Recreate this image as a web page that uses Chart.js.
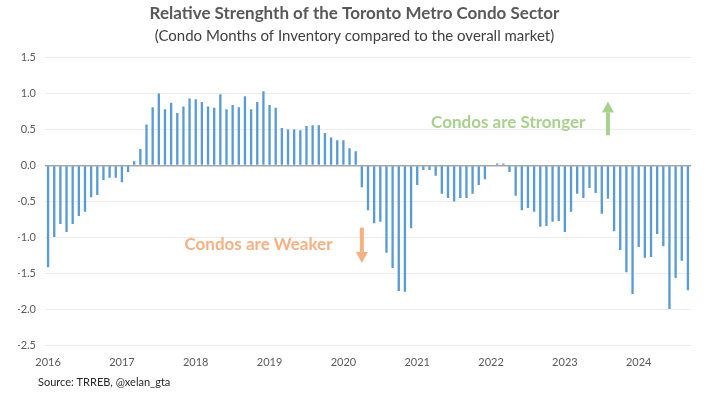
<!DOCTYPE html>
<html>
<head>
<meta charset="utf-8">
<script src="https://cdn.jsdelivr.net/npm/chart.js@4"></script>
<style>
    html, body { margin: 0; padding: 0; background: #fff; }
    #wrap { width: 709px; height: 396px; }
</style>
</head>
<body>
<div id="wrap"><canvas id="grafico"></canvas></div>
<script>
const anos = ['2016', '2017', '2018', '2019', '2020', '2021', '2022', '2023', '2024'];
const meses = ['01', '02', '03', '04', '05', '06', '07', '08', '09', '10', '11', '12'];

const valores2016 = [-1.41, -0.99, -0.81, -0.92, -0.81, -0.70, -0.64, -0.44, -0.41, -0.20, -0.17, -0.17];
const valores2017 = [-0.23, -0.09, 0.06, 0.23, 0.57, 0.81, 1.00, 0.78, 0.87, 0.73, 0.82, 0.93];
const valores2018 = [0.92, 0.88, 0.82, 0.80, 0.99, 0.78, 0.84, 0.81, 0.96, 0.78, 0.88, 1.03];
const valores2019 = [0.84, 0.80, 0.52, 0.50, 0.50, 0.49, 0.55, 0.56, 0.56, 0.45, 0.39, 0.35];
const valores2020 = [0.35, 0.24, 0.20, -0.30, -0.62, -0.80, -0.78, -1.21, -1.42, -1.74, -1.75, -0.87];
const valores2021 = [-0.27, -0.06, -0.06, -0.14, -0.39, -0.45, -0.50, -0.45, -0.45, -0.39, -0.27, -0.19];
const valores2022 = [0.00, 0.03, 0.03, -0.09, -0.42, -0.62, -0.59, -0.64, -0.85, -0.84, -0.78, -0.77];
const valores2023 = [-0.92, -0.64, -0.39, -0.45, -0.31, -0.38, -0.67, -0.46, -0.91, -1.17, -1.48, -1.78];
const valores2024 = [-1.13, -1.28, -1.27, -0.95, -1.12, -1.99, -1.56, -1.32, -1.73];

const valores = [].concat(valores2016, valores2017, valores2018, valores2019, valores2020,
    valores2021, valores2022, valores2023, valores2024);

// one label per month, "2016-01" ... while the axis only shows the year in January
const rotulos = [];
anos.forEach(a => meses.forEach(m => rotulos.push(a + '-' + m)));
rotulos.length = valores.length;

const ticksY = [1.5, 1.0, 0.5, 0.0, -0.5, -1.0, -1.5, -2.0, -2.5];

const fonte = 'Lato, "Open Sans", sans-serif';

// texts and arrows placed with the chart's own scales (month index / value)
const notas = {
    id: 'notas',
    afterDraw(chart) {
        const ctx = chart.ctx;
        const x = chart.scales.x;
        const y = chart.scales.y;
        ctx.save();

        ctx.font = 'bold 17px ' + fonte;
        ctx.textAlign = 'center';
        ctx.textBaseline = 'middle';
        ctx.fillStyle = '#a9d18e';
        ctx.fillText('Condos are Stronger', x.getPixelForValue(74.8), y.getPixelForValue(0.60));
        ctx.fillStyle = '#f4b183';
        ctx.fillText('Condos are Weaker', x.getPixelForValue(34.2), y.getPixelForValue(-1.09));

        seta(ctx, x.getPixelForValue(91), y.getPixelForValue(0.42), y.getPixelForValue(0.89), '#a9d18e');
        seta(ctx, x.getPixelForValue(51), y.getPixelForValue(-0.86), y.getPixelForValue(-1.35), '#f4b183');

        ctx.font = '11px ' + fonte;
        ctx.textAlign = 'left';
        ctx.fillStyle = '#262626';
        ctx.fillText('Source: TRREB, @xelan_gta', 38, 382);
        ctx.restore();
    }
};

function seta(ctx, px, y0, y1, cor) {
    const dir = y1 < y0 ? -1 : 1;
    const cab = 11;
    ctx.fillStyle = cor;
    ctx.fillRect(px - 2, Math.min(y0, y1 - dir * cab), 4, Math.abs(y1 - dir * cab - y0));
    ctx.beginPath();
    ctx.moveTo(px - 6, y1 - dir * cab);
    ctx.lineTo(px + 6, y1 - dir * cab);
    ctx.lineTo(px, y1);
    ctx.closePath();
    ctx.fill();
}

const grafico = new Chart(document.getElementById('grafico').getContext('2d'), {
    type: 'bar',
    data: {
        labels: rotulos,
        datasets: [{
            label: 'Relative strength',
            data: valores,
            backgroundColor: '#5b9bd5',
            barPercentage: 0.38,
            categoryPercentage: 1.0,
        }]
    },
    options: {
        responsive: true,
        maintainAspectRatio: false,
        animation: false,
        layout: {
            padding: { left: 18, right: 18, top: 0, bottom: 25 }
        },
        plugins: {
            legend: { display: false },
            tooltip: { enabled: false },
            title: {
                display: true,
                text: 'Relative Strenghth of the Toronto Metro Condo Sector',
                color: '#595959',
                font: { family: fonte, size: 17, weight: 'bold' },
                padding: { top: 3, bottom: 3 }
            },
            subtitle: {
                display: true,
                text: '(Condo Months of Inventory compared to the overall market)',
                color: '#404040',
                font: { family: fonte, size: 15 },
                padding: { top: 1, bottom: 12 }
            }
        },
        scales: {
            x: {
                grid: { display: false },
                border: { display: false },
                ticks: {
                    autoSkip: false,
                    maxRotation: 0,
                    color: '#595959',
                    font: { family: fonte, size: 11 },
                    padding: 2,
                    callback: function (v, i) {
                        const r = rotulos[i];
                        return r.endsWith('-01') ? r.slice(0, 4) : '';
                    }
                }
            },
            y: {
                min: -2.5,
                max: 1.5,
                afterFit: s => { s.width = 27; },
                afterBuildTicks: s => { s.ticks = ticksY.map(v => ({ value: v })); },
                border: { display: false },
                grid: {
                    color: c => c.tick.value === 0 ? '#a6a6a6' : '#ececec',
                    lineWidth: c => c.tick.value === 0 ? 1.5 : 1,
                    drawTicks: false
                },
                ticks: {
                    color: '#595959',
                    font: { family: fonte, size: 11 },
                    padding: 9,
                    callback: v => v.toFixed(1)
                }
            }
        }
    },
    plugins: [notas]
});
</script>
</body>
</html>
